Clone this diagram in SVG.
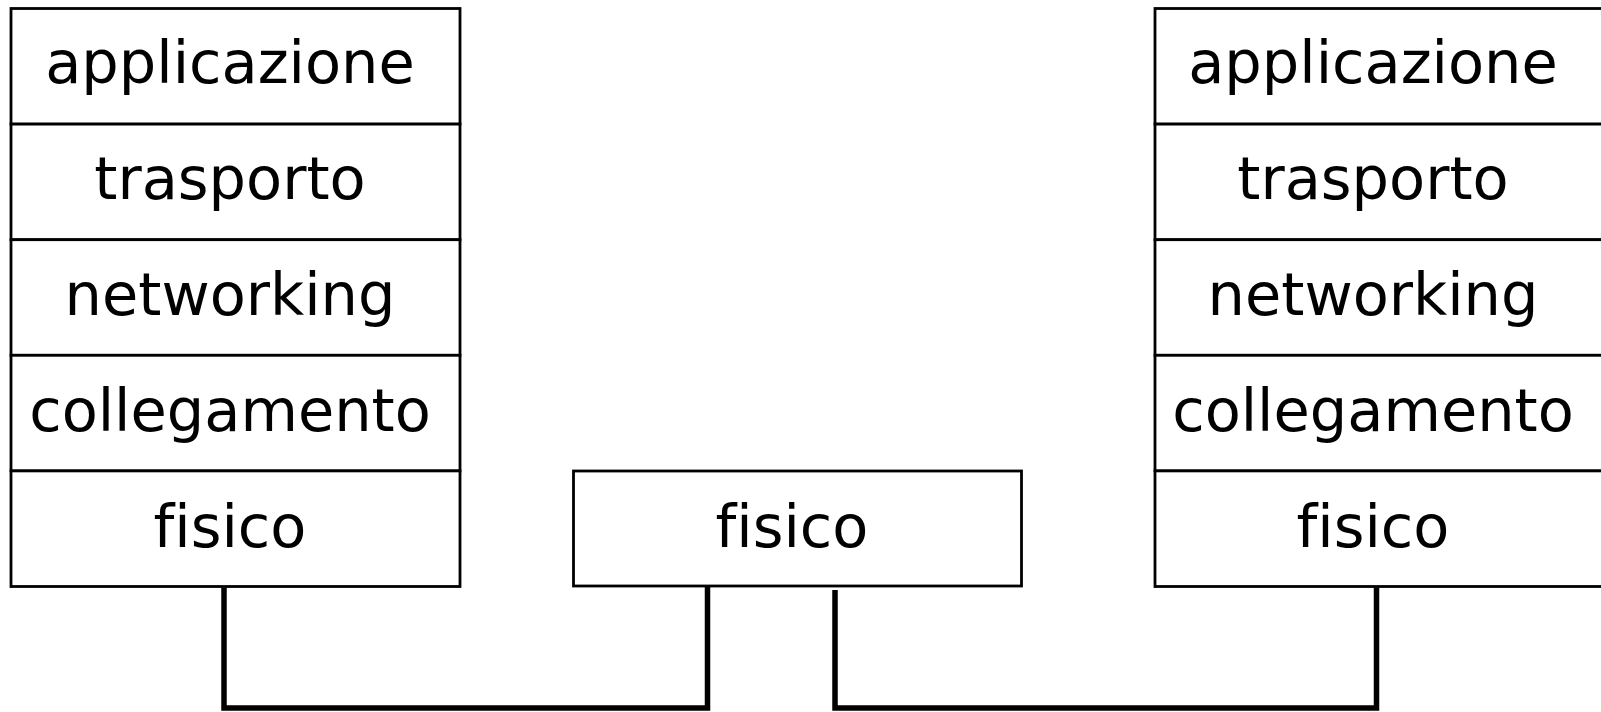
<svg xmlns="http://www.w3.org/2000/svg" width="1601" height="712" viewBox="0 0 1601 712">
<style>
.box{fill:#fff;stroke:#000;stroke-width:2.8}
.lbl{font-family:"DejaVu Sans",sans-serif;font-size:59px;fill:#000;text-anchor:middle;font-variant-ligatures:none;font-feature-settings:"liga" 0}
.wire{fill:none;stroke:#000;stroke-width:5.5}
</style>
<rect width="1601" height="712" fill="#fff"/>
<g id="left-stack">
<g id="l-app"><rect class="box" x="11" y="8.5" width="449" height="115.6"/><text class="lbl" x="230" y="83">applicazione</text></g>
<g id="l-tra"><rect class="box" x="11" y="124.1" width="449" height="115.6"/><text class="lbl" x="230" y="199">trasporto</text></g>
<g id="l-net"><rect class="box" x="11" y="239.7" width="449" height="115.6"/><text class="lbl" x="230" y="315">networking</text></g>
<g id="l-col"><rect class="box" x="11" y="355.3" width="449" height="115.6"/><text class="lbl" x="230" y="431">collegamento</text></g>
<g id="l-fis"><rect class="box" x="11" y="470.9" width="449" height="115.6"/><text class="lbl" x="230" y="547">fisico</text></g>
</g>
<g id="mid-fisico"><rect class="box" x="573.5" y="471" width="448" height="115"/><text class="lbl" x="792" y="547">fisico</text></g>
<g id="right-stack">
<g id="r-app"><rect class="box" x="1155" y="8.5" width="449" height="115.6"/><text class="lbl" x="1373" y="83">applicazione</text></g>
<g id="r-tra"><rect class="box" x="1155" y="124.1" width="449" height="115.6"/><text class="lbl" x="1373" y="199">trasporto</text></g>
<g id="r-net"><rect class="box" x="1155" y="239.7" width="449" height="115.6"/><text class="lbl" x="1373" y="315">networking</text></g>
<g id="r-col"><rect class="box" x="1155" y="355.3" width="449" height="115.6"/><text class="lbl" x="1373" y="431">collegamento</text></g>
<g id="r-fis"><rect class="box" x="1155" y="470.9" width="449" height="115.6"/><text class="lbl" x="1373" y="547">fisico</text></g>
</g>
<g id="connectors">
<path class="wire" d="M224 587.5 V708 H707.5 V587"/>
<path class="wire" d="M835 590 V708 H1376.5 V587.5"/>
</g>
</svg>
